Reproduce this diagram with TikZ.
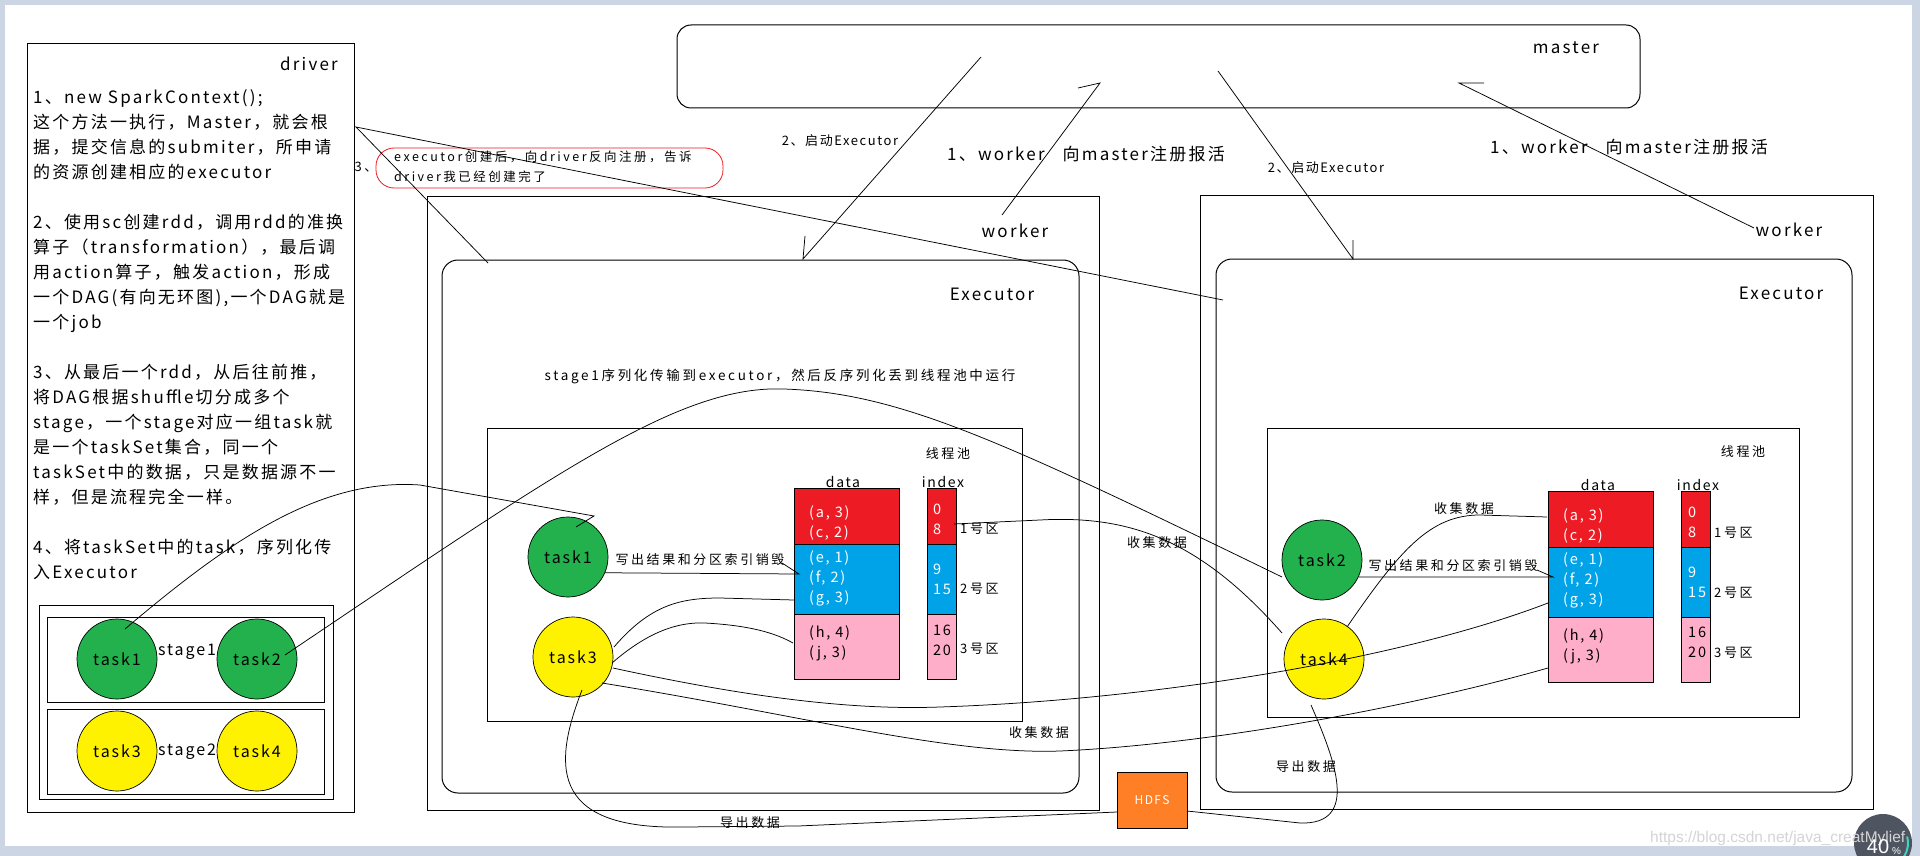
\documentclass[tikz,border=0pt]{standalone}
\usepackage{fontspec}
\setmainfont{Noto Sans CJK SC}
\newfontfamily\fA[LetterSpace=13]{Noto Sans CJK SC}
\newfontfamily\fB[LetterSpace=20]{Noto Sans CJK SC}
\newfontfamily\fC[LetterSpace=12]{Noto Sans CJK SC}
\newfontfamily\fW{Liberation Sans}
\usetikzlibrary{fit}
\definecolor{pgreen}{RGB}{34,177,76}
\definecolor{pyellow}{RGB}{255,242,0}
\definecolor{pred}{RGB}{237,28,36}
\definecolor{pblue}{RGB}{0,162,232}
\definecolor{ppink}{RGB}{255,174,201}
\definecolor{porange}{RGB}{255,127,39}
\definecolor{framec}{RGB}{203,213,228}
\definecolor{gaugec}{RGB}{78,84,96}
\definecolor{gaugearc}{RGB}{64,210,190}
\definecolor{wmark}{RGB}{212,212,212}
\begin{document}
\begin{tikzpicture}[x=1pt,y=-1pt,
  box/.style={draw=black, line width=1pt, inner sep=0pt},
  rbox/.style={box, rounded corners=16pt},
  cell/.style={draw=black, line width=1pt, inner sep=0pt},
  taskc/.style={circle, draw=black, line width=0.7pt, minimum size=80pt, inner sep=0pt, font=\fC\fontsize{16}{18}\selectfont},
  big/.style={inner sep=0pt, text height=12.9pt, text depth=0pt, font=\fA\fontsize{17}{19}\selectfont},
  mid/.style={inner sep=0pt, text height=9.9pt, text depth=0pt, font=\fB\fontsize{13}{15}\selectfont},
  small/.style={inner sep=0pt, text height=9.5pt, text depth=0pt, font=\fB\fontsize{12.5}{14}\selectfont},
  captxt/.style={inner sep=0pt, text height=10.3pt, text depth=0pt, font=\fB\fontsize{13.5}{15}\selectfont},
  val/.style={inner sep=0pt, text height=11pt, text depth=0pt, font=\fC\fontsize{14.5}{16}\selectfont},
  hdr/.style={inner sep=0pt, text height=10.6pt, text depth=0pt, font=\fC\fontsize{14}{16}\selectfont},
  conn/.style={draw=black, line width=0.75pt},
]
\useasboundingbox (0,0) rectangle (1920,856);
\fill[framec] (0,0) rectangle (1920,856);
\fill[white] (5,5) rectangle (1912,846);

% ---------------- driver ----------------
\node[box, fit={(27,44) (354,812)}] (driver) {};
\node[big, anchor=east] (drvlbl) at (338,64) {driver};
\node[big, anchor=west] (d1) at (33,97) {1、new SparkContext();};
\node[big, anchor=west] (d2) at (33,122) {这个方法一执行，Master，就会根};
\node[big, anchor=west] (d3) at (33,147) {据，提交信息的submiter，所申请};
\node[big, anchor=west] (d4) at (33,172) {的资源创建相应的executor};
\node[big, anchor=west] (d5) at (33,222) {2、使用sc创建rdd，调用rdd的准换};
\node[big, anchor=west] (d6) at (33,247) {算子（transformation），最后调};
\node[big, anchor=west] (d7) at (33,272) {用action算子，触发action，形成};
\node[big, anchor=west] (d8) at (33,297) {一个DAG(有向无环图),一个DAG就是};
\node[big, anchor=west] (d9) at (33,322) {一个job};
\node[big, anchor=west] (d10) at (33,372) {3、从最后一个rdd，从后往前推，};
\node[big, anchor=west] (d11) at (33,397) {将DAG根据shuffle切分成多个};
\node[big, anchor=west] (d12) at (33,422) {stage，一个stage对应一组task就};
\node[big, anchor=west] (d13) at (33,447) {是一个taskSet集合，同一个};
\node[big, anchor=west] (d14) at (33,472) {taskSet中的数据，只是数据源不一};
\node[big, anchor=west] (d15) at (33,497) {样，但是流程完全一样。};
\node[big, anchor=west] (d16) at (33,547) {4、将taskSet中的task，序列化传};
\node[big, anchor=west] (d17) at (33,572) {入Executor};

\node[box, fit={(39,605) (333,799)}] (stages) {};
\node[box, fit={(47,617) (324,702)}] (stage1box) {};
\node[box, fit={(47,709) (324,794)}] (stage2box) {};
\node[taskc, fill=pgreen] (dT1) at (117,659) {task1};
\node[taskc, fill=pgreen] (dT2) at (257,659) {task2};
\node[taskc, fill=pyellow] (dT3) at (117,751) {task3};
\node[taskc, fill=pyellow] (dT4) at (257,751) {task4};
\node[inner sep=0pt, font=\fC\fontsize{16}{18}\selectfont] (st1) at (187,652) {stage1};
\node[inner sep=0pt, font=\fC\fontsize{16}{18}\selectfont] (st2) at (187,752) {stage2};

% ---------------- master ----------------
\node[box, rounded corners=14pt, fit={(677,25) (1640,108)}] (master) {};
\node[big] (masterlbl) at (1566,47) {master};

% ---------------- left worker ----------------
\node[box, fit={(427,196) (1099,810)}] (workerL) {};
\node[big] (workerLlbl) at (1015,231) {worker};
\node[rbox, fit={(442,260) (1079,793)}] (execL) {};
\node[big] (execLlbl) at (992,294) {Executor};
\node[captxt] (stagemsg) at (780,375) {stage1序列化传输到executor，然后反序列化丢到线程池中运行};
\node[box, fit={(487,428) (1022,721)}] (poolL) {};
\node[mid] (poolLlbl) at (948,454) {线程池};
\node[hdr] (dataLlbl) at (843,482) {data};
\node[hdr] (idxLlbl) at (943,482) {index};
\node[cell, fill=pred, fit={(794,488) (899,544)}] (dL1) {};
\node[cell, fill=pblue, fit={(794,544) (899,614)}] (dL2) {};
\node[cell, fill=ppink, fit={(794,614) (899,679)}] (dL3) {};
\node[cell, fill=pred, fit={(927,488) (956,544)}] (iL1) {};
\node[cell, fill=pblue, fit={(927,544) (956,614)}] (iL2) {};
\node[cell, fill=ppink, fit={(927,614) (956,679)}] (iL3) {};
\node[val, anchor=west, text=white] at (809,512) {(a, 3)};
\node[val, anchor=west, text=white] at (809,532) {(c, 2)};
\node[val, anchor=west, text=white] at (809,557) {(e, 1)};
\node[val, anchor=west, text=white] at (809,577) {(f, 2)};
\node[val, anchor=west, text=white] at (809,597) {(g, 3)};
\node[val, anchor=west] at (809,632) {(h, 4)};
\node[val, anchor=west] at (809,652) {(j, 3)};
\node[val, anchor=west, text=white] at (933,509) {0};
\node[val, anchor=west, text=white] (i8L) at (933,529) {8};
\node[val, anchor=west, text=white] at (933,569) {9};
\node[val, anchor=west, text=white] at (933,589) {15};
\node[val, anchor=west] at (933,630) {16};
\node[val, anchor=west] at (933,650) {20};
\node[mid, anchor=west] at (960,529) {1号区};
\node[mid, anchor=west] at (960,589) {2号区};
\node[mid, anchor=west] at (960,649) {3号区};
\node[taskc, fill=pgreen] (t1L) at (568,557) {task1};
\node[taskc, fill=pyellow] (t3L) at (573,657) {task3};
\node[mid] (wrL) at (700,560) {写出结果和分区索引销毁};

% ---------------- right worker ----------------
\node[box, fit={(1200,195) (1873,809)}] (workerR) {};
\node[big] (workerRlbl) at (1789,230) {worker};
\node[rbox, fit={(1216,259) (1852,792)}] (execR) {};
\node[big] (execRlbl) at (1781,293) {Executor};
\node[box, fit={(1267,428) (1799,717)}] (poolR) {};
\node[mid] (poolRlbl) at (1743,452) {线程池};
\node[hdr] (dataRlbl) at (1598,485) {data};
\node[hdr] (idxRlbl) at (1698,485) {index};
\node[cell, fill=pred, fit={(1548,491) (1653,547)}] (dR1) {};
\node[cell, fill=pblue, fit={(1548,547) (1653,617)}] (dR2) {};
\node[cell, fill=ppink, fit={(1548,617) (1653,682)}] (dR3) {};
\node[cell, fill=pred, fit={(1681,491) (1710,547)}] (iR1) {};
\node[cell, fill=pblue, fit={(1681,547) (1710,617)}] (iR2) {};
\node[cell, fill=ppink, fit={(1681,617) (1710,682)}] (iR3) {};
\node[val, anchor=west, text=white] at (1563,515) {(a, 3)};
\node[val, anchor=west, text=white] at (1563,535) {(c, 2)};
\node[val, anchor=west, text=white] at (1563,559) {(e, 1)};
\node[val, anchor=west, text=white] at (1563,579) {(f, 2)};
\node[val, anchor=west, text=white] at (1563,599) {(g, 3)};
\node[val, anchor=west] at (1563,635) {(h, 4)};
\node[val, anchor=west] at (1563,655) {(j, 3)};
\node[val, anchor=west, text=white] at (1688,512) {0};
\node[val, anchor=west, text=white] at (1688,532) {8};
\node[val, anchor=west, text=white] at (1688,572) {9};
\node[val, anchor=west, text=white] at (1688,592) {15};
\node[val, anchor=west] at (1688,632) {16};
\node[val, anchor=west] at (1688,652) {20};
\node[mid, anchor=west] at (1714,533) {1号区};
\node[mid, anchor=west] at (1714,593) {2号区};
\node[mid, anchor=west] at (1714,653) {3号区};
\node[taskc, fill=pgreen] (t2R) at (1322,560) {task2};
\node[taskc, fill=pyellow] (t4R) at (1324,659) {task4};
\node[mid] (wrR) at (1453,566) {写出结果和分区索引销毁};

% ---------------- HDFS ----------------
\node[box, fill=porange, fit={(1117,772) (1187,828)}] (hdfs) {};
\node[font=\fC\fontsize{12}{14}\selectfont, text=white, inner sep=0pt] at (hdfs.center) {HDFS};

% ---------------- labels ----------------
\node[draw=pred, line width=0.8pt, rounded corners=18pt, fit={(376,148) (723,188)}, inner sep=0pt] (regbox) {};
\node[small, anchor=west] at (394,157) {executor创建后，向driver反向注册，告诉};
\node[small, anchor=west] at (394,177) {driver我已经创建完了};
\node[mid] (n3) at (366,167) {3、};
\node[mid, font=\fC\fontsize{13}{15}\selectfont] (startL) at (840,141) {2、启动Executor};
\node[mid, font=\fC\fontsize{13}{15}\selectfont] (startR) at (1326,168) {2、启动Executor};
\node[big, anchor=west] (regL) at (947,154) {1、worker\hspace{18pt}向master注册报活};
\node[big, anchor=west] (regR) at (1490,147) {1、worker\hspace{18pt}向master注册报活};
\node[mid] (colA) at (1157,543) {收集数据};
\node[mid] (colB) at (1464,509) {收集数据};
\node[mid] (colC) at (1039,733) {收集数据};
\node[mid] (expA) at (750,823) {导出数据};
\node[mid] (expB) at (1306,767) {导出数据};

% ---------------- connectors ----------------
\coordinate (dr3) at (356,127);
\coordinate (eL3) at (488,263);
\coordinate (eR3) at (1223,300);
\draw[conn] (eL3) -- (dr3) -- (eR3);

\coordinate (mL2) at (981,57);
\coordinate (eL2) at (803,259);
\coordinate (bL2) at (805,236);
\draw[conn] (mL2) -- (eL2) -- (bL2);

\coordinate (wL1) at (1002,215);
\coordinate (mL1) at (1100,83);
\coordinate (bL1) at (1078,88);
\draw[conn] (wL1) -- (mL1) -- (bL1);

\coordinate (mR2) at (1218,71);
\coordinate (eR2) at (1353,259);
\coordinate (bR2) at (1353,240);
\draw[conn] (mR2) -- (eR2) -- (bR2);

\coordinate (wR1) at (1754,228);
\coordinate (mR1) at (1459,83);
\coordinate (bR1) at (1484,83);
\draw[conn] (wR1) -- (mR1) -- (bR1);

% write-out arrows
\coordinate (aL) at (799,574);
\coordinate (abL) at (782,563);
\draw[conn] (t1L.-23) -- (aL) -- (abL);
\coordinate (aR) at (1553,577);
\coordinate (abR) at (1537,570);
\draw[conn] (t2R.-25) -- (aR) -- (abR);

% driver task1 -> executor task1
\coordinate (s1) at (125,629);
\coordinate (e1) at (594,516);
\coordinate (e1b) at (576,527);
\draw[conn] (s1) .. controls (230,540) and (320,478) .. (420,485) -- (e1) -- (e1b);

% driver task2 -> right task2
\coordinate (s2) at (285,655);
\coordinate (e2) at (1282,577);
\draw[conn] (s2) .. controls (560,470) and (680,385) .. (784,389) .. controls (900,393) and (1000,440) .. (e2);

% index 8 -> right task4
\coordinate (s3) at (954,524);
\coordinate (e3) at (1282,633);
\draw[conn] (s3) -- (1040,520) .. controls (1130,515) and (1200,540) .. (e3);

% task3 -> left blue / pink
\coordinate (s4) at (614,647);
\coordinate (e4) at (794,600);
\draw[conn] (s4) .. controls (650,605) and (680,598) .. (720,598) -- (e4);
\coordinate (s5) at (612,663);
\coordinate (e5) at (793,643);
\draw[conn] (s5) .. controls (650,630) and (680,622) .. (705,623) .. controls (740,625) and (770,630) .. (e5);

% task3 -> right blue / pink
\coordinate (s6) at (613,668);
\coordinate (e6) at (1548,603);
\draw[conn] (s6) .. controls (760,700) and (860,710) .. (940,707) .. controls (1150,700) and (1400,660) .. (e6);
\coordinate (s7) at (602,683);
\coordinate (e7) at (1548,668);
\draw[conn] (s7) .. controls (800,715) and (950,755) .. (1060,751) .. controls (1200,745) and (1400,710) .. (e7);

% task4 -> right red
\coordinate (s8) at (1347,627);
\coordinate (e8) at (1547,517);
\draw[conn] (s8) .. controls (1400,550) and (1430,515) .. (1480,515) -- (e8);

% export to HDFS
\coordinate (s9) at (582,690);
\coordinate (e9) at (1117,812);
\draw[conn] (s9) .. controls (555,760) and (545,830) .. (683,827) -- (798,826) -- (e9);
\coordinate (s10) at (1311,705);
\coordinate (e10) at (1187,811);
\draw[conn] (s10) .. controls (1335,760) and (1360,825) .. (1300,823) -- (e10);

% ---------------- watermark / gauge ----------------
\begin{scope}
\clip (0,0) rectangle (1920,856);
\fill[gaugec] (1883,843) circle (29);
\draw[gaugearc, line width=2pt] (1883,843) ++(90:25) arc[start angle=90, end angle=-15, radius=25];
\end{scope}
\node[anchor=west, inner sep=0pt, text=wmark, font=\fW\fontsize{15.5}{17}\selectfont] (wm) at (1650,838) {https://blog.csdn.net/java\_creatMylief};
\node[inner sep=0pt, text=white, font=\fW\fontsize{20}{22}\selectfont] (g40) at (1878,847) {40};
\node[inner sep=0pt, text=white, font=\fW\fontsize{10}{12}\selectfont, anchor=west] (gpc) at (1892,851) {\%};
\end{tikzpicture}
\end{document}
